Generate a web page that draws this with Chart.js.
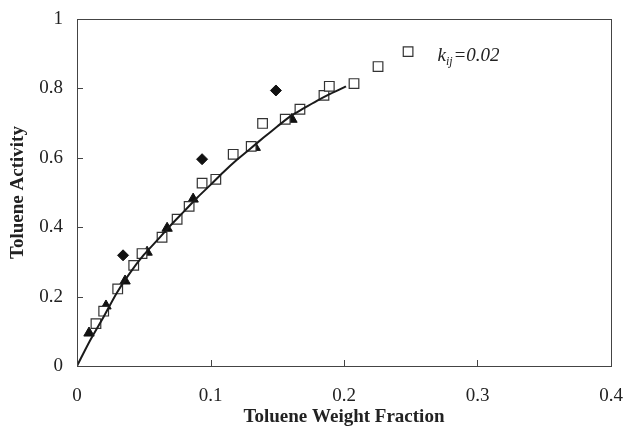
<!DOCTYPE html>
<html>
<head>
<meta charset="utf-8">
<script src="https://cdn.jsdelivr.net/npm/chart.js@4"></script>
<style>
  html, body { margin: 0; padding: 0; background: #fff; }
  #wrap { width: 623px; height: 428px; position: relative; }
</style>
</head>
<body>
<div id="wrap"><canvas id="chart"></canvas></div>
<script>
// Open squares (experimental)
const squareX = [0.0142, 0.0200, 0.0305, 0.0425, 0.0487, 0.0637, 0.0750, 0.0840, 0.0937, 0.1040, 0.1170, 0.1305, 0.1390, 0.1560, 0.1670, 0.1850, 0.1890, 0.2075, 0.2255, 0.2480];
const squareY = [0.122, 0.158, 0.222, 0.290, 0.324, 0.371, 0.423, 0.460, 0.527, 0.538, 0.610, 0.633, 0.699, 0.711, 0.740, 0.780, 0.806, 0.814, 0.863, 0.906];

// Filled triangles
const triangleX = [0.0090, 0.0217, 0.0360, 0.0525, 0.0675, 0.0870, 0.1335, 0.1610];
const triangleY = [0.095, 0.173, 0.245, 0.328, 0.397, 0.481, 0.630, 0.711];

// Filled diamonds
const diamondX = [0.0345, 0.0937, 0.1490];
const diamondY = [0.319, 0.596, 0.794];

// Model curve (kij = 0.02)
const modelX = [0, 0.01, 0.02, 0.03, 0.04, 0.05, 0.06, 0.07, 0.08, 0.09, 0.10, 0.11, 0.12, 0.13, 0.14, 0.15, 0.16, 0.17, 0.18, 0.19, 0.20, 0.2015];
const modelY = [0, 0.075, 0.142, 0.212, 0.270, 0.320, 0.362, 0.405, 0.445, 0.485, 0.522, 0.560, 0.595, 0.627, 0.659, 0.690, 0.720, 0.743, 0.765, 0.785, 0.803, 0.806];

const xTicks = [0, 0.1, 0.2, 0.3, 0.4];
const yTicks = [0, 0.2, 0.4, 0.6, 0.8, 1];

const ink = '#222222';
const serif = "'Liberation Serif', 'Times New Roman', serif";

function toPoints(xs, ys) {
  return xs.map((x, i) => ({ x: x, y: ys[i] }));
}

// Frame box with inward tick marks
const framePlugin = {
  id: 'frame',
  afterDatasetsDraw(chart) {
    const { ctx, chartArea: a, scales } = chart;
    ctx.save();
    ctx.strokeStyle = '#444';
    ctx.lineWidth = 1;
    ctx.strokeRect(a.left + 0.5, a.top + 0.5, a.right - a.left, a.bottom - a.top);
    ctx.beginPath();
    xTicks.slice(1, -1).forEach(v => {
      const px = Math.round(scales.x.getPixelForValue(v)) + 0.5;
      ctx.moveTo(px, a.bottom);
      ctx.lineTo(px, a.bottom - 6);
    });
    yTicks.slice(1, -1).forEach(v => {
      const py = Math.round(scales.y.getPixelForValue(v)) + 0.5;
      ctx.moveTo(a.left, py);
      ctx.lineTo(a.left + 6, py);
    });
    ctx.stroke();
    ctx.restore();
  }
};

// k_ij = 0.02 label
const labelPlugin = {
  id: 'kijLabel',
  afterDraw(chart) {
    const { ctx, scales } = chart;
    const x = scales.x.getPixelForValue(0.27);
    const y = scales.y.getPixelForValue(0.878);
    ctx.save();
    ctx.fillStyle = ink;
    ctx.textBaseline = 'alphabetic';
    ctx.font = "italic 19px " + serif;
    ctx.fillText('k', x, y);
    let w = ctx.measureText('k').width;
    ctx.font = "italic 12px " + serif;
    ctx.fillText('ij', x + w, y + 4);
    w += ctx.measureText('ij').width + 1;
    ctx.font = "italic 19px " + serif;
    ctx.fillText('=0.02', x + w, y);
    ctx.restore();
  }
};

new Chart(document.getElementById('chart'), {
  type: 'scatter',
  data: {
    datasets: [
      {
        type: 'line',
        label: 'Model',
        data: toPoints(modelX, modelY),
        borderColor: '#1a1a1a',
        borderWidth: 2,
        pointRadius: 0,
        fill: false,
        tension: 0.3,
        order: 0
      },
      {
        label: 'Squares',
        data: toPoints(squareX, squareY),
        pointStyle: 'rect',
        pointRadius: 6.8,
        backgroundColor: '#ffffff',
        borderColor: '#333333',
        borderWidth: 1.2,
        order: 1
      },
      {
        label: 'Triangles',
        data: toPoints(triangleX, triangleY),
        pointStyle: 'triangle',
        pointRadius: 6,
        backgroundColor: '#111111',
        borderColor: '#111111',
        borderWidth: 1,
        order: 2
      },
      {
        label: 'Diamonds',
        data: toPoints(diamondX, diamondY),
        pointStyle: 'rectRot',
        pointRadius: 5.5,
        backgroundColor: '#111111',
        borderColor: '#111111',
        borderWidth: 1,
        order: 2
      }
    ]
  },
  options: {
    responsive: true,
    maintainAspectRatio: false,
    animation: false,
    layout: { padding: { top: 19, right: 12, left: 0, bottom: 0 } },
    plugins: {
      legend: { display: false },
      tooltip: { enabled: false }
    },
    scales: {
      x: {
        type: 'linear',
        min: 0,
        max: 0.4,
        afterFit(scale) {
          scale.height = 62;
          scale.paddingLeft = 0;
          scale.paddingRight = 0;
        },
        afterBuildTicks(scale) { scale.ticks = xTicks.map(v => ({ value: v })); },
        grid: { display: false, drawTicks: false },
        border: { display: false },
        ticks: {
          padding: 19,
          color: ink,
          font: { family: serif, size: 19 },
          maxRotation: 0,
          callback: v => String(v)
        },
        title: {
          display: true,
          text: 'Toluene Weight Fraction',
          color: ink,
          font: { family: serif, size: 19, weight: 'bold' },
          padding: { top: 0, bottom: 0 }
        }
      },
      y: {
        type: 'linear',
        min: 0,
        max: 1,
        afterFit(scale) {
          scale.width = 77;
          scale.paddingTop = 0;
          scale.paddingBottom = 0;
        },
        afterBuildTicks(scale) { scale.ticks = yTicks.map(v => ({ value: v })); },
        grid: { display: false, drawTicks: false },
        border: { display: false },
        ticks: {
          padding: 14,
          color: ink,
          font: { family: serif, size: 19 },
          callback: v => String(v)
        },
        title: {
          display: true,
          text: 'Toluene Activity',
          color: ink,
          font: { family: serif, size: 19, weight: 'bold' },
          padding: { top: 7, bottom: 7 }
        }
      }
    }
  },
  plugins: [framePlugin, labelPlugin]
});
</script>
</body>
</html>
